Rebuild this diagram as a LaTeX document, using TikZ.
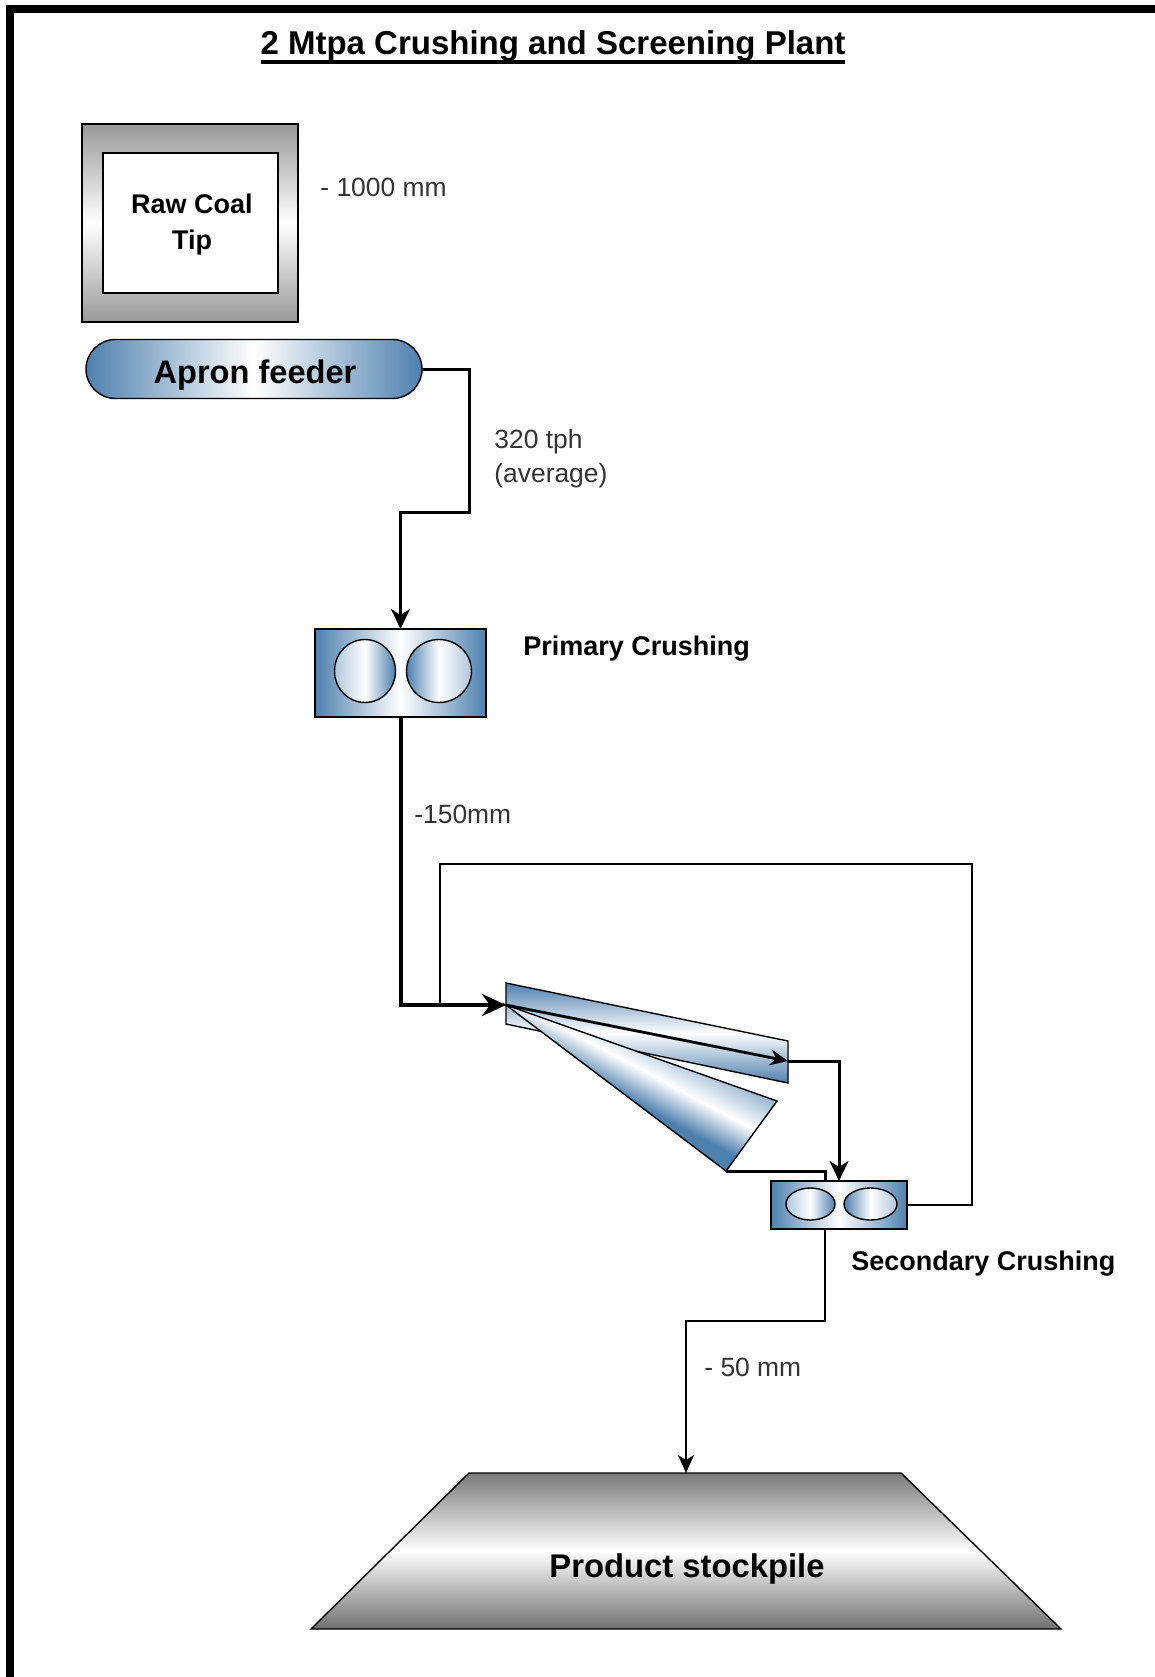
\documentclass[tikz,border=0pt]{standalone}
\usepackage{fontspec}
\setmainfont{Liberation Sans}
\usetikzlibrary{arrows.meta, shapes.geometric, shapes.misc}
\definecolor{steel}{RGB}{78,128,174}
\definecolor{steelpale}{RGB}{176,198,220}
\pgfdeclareverticalshading{conefade}{100bp}{color(0bp)=(steel); color(46bp)=(steel); color(54bp)=(white); color(69bp)=(steel); color(100bp)=(steel)}
\tikzset{
	flowline/.style={line width=1.5pt},
	thinline/.style={line width=1.2pt},
	flowtip/.style={-{Stealth[length=10pt,width=9.5pt,inset=3pt]}},
	note/.style={anchor=west, inner sep=0, align=left, text=black!80, font=\fontsize{13.2}{17}\selectfont},
	boldnote/.style={anchor=west, inner sep=0, font=\fontsize{13.5}{18}\selectfont\bfseries},
	steelbox/.style={draw, line width=0.7pt, inner sep=0, outer sep=0, left color=steel, right color=steel, middle color=white},
	rollleft/.style={draw, line width=0.7pt, ellipse, inner sep=0, outer sep=0, left color=steelpale, right color=steel, middle color=white},
	rollright/.style={draw, line width=0.7pt, ellipse, inner sep=0, outer sep=0, left color=steel, right color=steelpale, middle color=white},
}
\begin{document}
\begin{tikzpicture}[x=0.5pt, y=-0.5pt]
	\useasboundingbox (0, 0) rectangle (1155, 1677);
	% Frame and title:
	\coordinate (framecorner) at (10, 9);
	\coordinate (frameright) at (1155, 9);
	\coordinate (framebottom) at (10, 1677);
	\draw[line width=3.6pt] (frameright) -- (framecorner) -- (framebottom);
	\node[inner sep=0, font=\fontsize{16.5}{20}\selectfont\bfseries] (title) at (553, 46) {2 Mtpa Crushing and Screening Plant};
	\coordinate (ruleleft) at (261, 62);
	\coordinate (ruleright) at (845, 62);
	\draw[line width=2.4pt] (ruleleft) -- (ruleright);
	% Tip and feeder:
	\node[draw, line width=0.7pt, inner sep=0, outer sep=0, minimum width=108pt, minimum height=99pt, top color=black!40, bottom color=black!40, middle color=white] (tip) at (190, 223) {};
	\node[draw, fill=white, line width=0.7pt, inner sep=0, outer sep=0, minimum width=87.5pt, minimum height=70pt] (tipbox) at (190.5, 223) {};
	\node[align=center, inner sep=0, font=\fontsize{13.5}{18}\selectfont\bfseries] (tiptext) at (192, 225) {Raw Coal\\Tip};
	\node[note] (tipsize) at (320, 187) {- 1000 mm};
	\node[rounded rectangle, steelbox, minimum width=168pt, minimum height=29.5pt] (apron) at (254, 369) {};
	\node[inner sep=0, font=\fontsize{16.3}{18}\selectfont\bfseries] (aprontext) at (255, 375) {Apron feeder};
	\node[note] (feedrate) at (494, 459) {320 tph\\(average)};
	% Primary crusher:
	\node[steelbox, minimum width=85.5pt, minimum height=44pt] (primary) at (400.5, 673) {};
	\node[rollleft, minimum width=30.5pt, minimum height=31.5pt] (primaryleft) at (365, 671) {};
	\node[rollright, minimum width=32.5pt, minimum height=31.5pt] (primaryright) at (439, 671) {};
	\node[boldnote] (primarylabel) at (523, 649) {Primary Crushing};
	\node[note] (primarysize) at (414, 814) {-150mm};
	\coordinate (feedbend) at (469, 512);
	\draw[flowline, flowtip] (apron.east) -| (feedbend) -| (primary.north);
	% Screen decks:
	\coordinate (deckin) at (506, 1005);
	\coordinate (deckout) at (788, 1061);
	\coordinate (coneout) at (726, 1171);
	\draw[line width=0.7pt, top color=steel, bottom color=steel, middle color=white] (506, 983) -- (788, 1041) -- (788, 1083) -- (506, 1024) -- cycle;
	\draw[line width=0.7pt, shading=conefade, shading angle=-28] (deckin) -- (777, 1101) -- (coneout) -- cycle;
	\draw[line width=1.4pt, -{Stealth[length=9pt,width=8pt,inset=3pt]}] (deckin) -- (deckout);
	% Secondary crusher:
	\node[steelbox, minimum width=68pt, minimum height=24pt] (secondary) at (839, 1205) {};
	\node[rollleft, minimum width=24.5pt, minimum height=16pt] (secondaryleft) at (810.5, 1204) {};
	\node[rollright, minimum width=26.5pt, minimum height=16pt] (secondaryright) at (870.5, 1204) {};
	\node[boldnote] (secondarylabel) at (851, 1264) {Secondary Crushing};
	% Flows through the plant:
	\coordinate (recycletop) at (972, 864);
	\coordinate (recycledrop) at (440, 1005);
	\draw[thinline] (secondary.east) -| (recycletop) -| (recycledrop);
	\draw[line width=2pt, -{Stealth[length=12pt,width=11pt,inset=4pt]}] (primary.south) |- (deckin);
	\draw[flowline, flowtip] (deckout) -| (secondary.north);
	\coordinate (conedrop) at (825, 1181);
	\draw[flowline] (coneout) -| (conedrop);
	% Product:
	\coordinate (stocktop) at (686, 1473);
	\draw[line width=0.7pt, top color=black!52, bottom color=black!56, middle color=white] (469, 1473) -- (901, 1473) -- (1061, 1629) -- (311, 1629) -- cycle;
	\node[inner sep=0, font=\fontsize{16.4}{18}\selectfont\bfseries] (stocklabel) at (687, 1569) {Product stockpile};
	\coordinate (productout) at (825, 1229);
	\coordinate (productbend) at (825, 1321);
	\draw[thinline, -{Stealth[length=9pt,width=8pt,inset=2.5pt]}] (productout) -- (productbend) -| (stocktop);
	\node[note] (productsize) at (704, 1367) {- 50 mm};
\end{tikzpicture}
\end{document}
